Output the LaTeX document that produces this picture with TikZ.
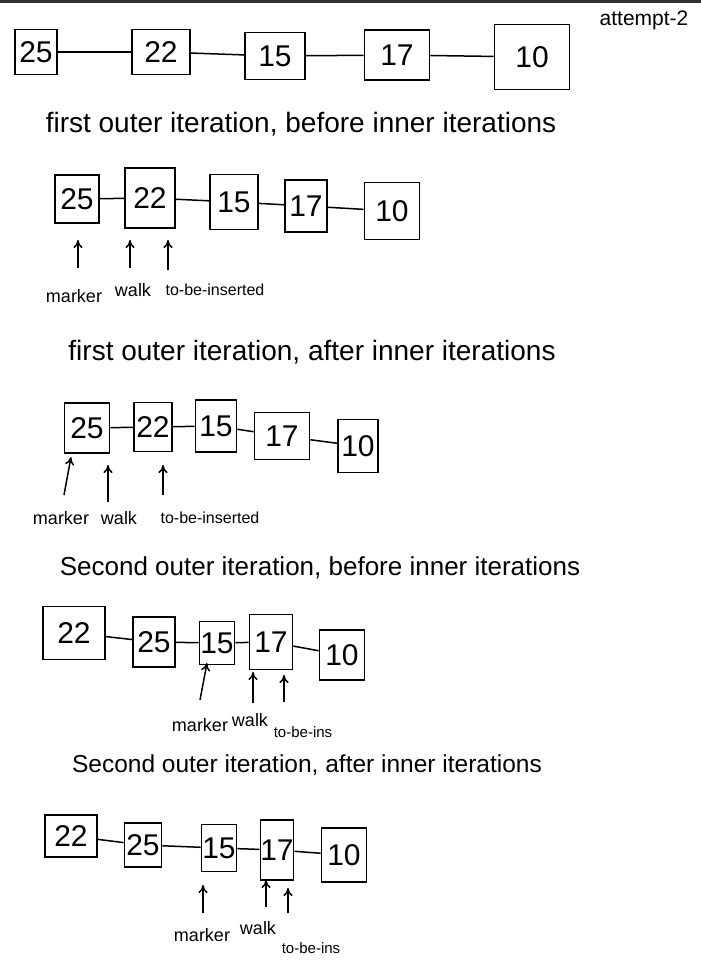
\documentclass[tikz,border=0pt]{standalone}
\usepackage{fontspec}
\setmainfont{Liberation Sans}
\usetikzlibrary{arrows.meta}
\begin{document}
\begin{tikzpicture}
[x=1pt,y=-1pt,
  nodedecorate/.style={shape=rectangle,draw,line width=1.6pt,inner sep=0pt,
    font=\fontsize{30}{32}\selectfont},%
  arrowdecorate/.style={-{To[length=8pt,width=9pt]},line width=1.5pt},%
  linedecorate/.style={-,line width=1.5pt},%
  labeldecorate/.style={font=\fontsize{18}{20}\selectfont},%
  captiondecorate/.style={font=\fontsize{#1}{30}\selectfont}]
\useasboundingbox (0,0) rectangle (701,970);
\fill[white] (0,0) rectangle (701,970);
\fill[black!80] (0,0) rectangle (701,3);
%% lists, one row a..e per state
\foreach \nodename/\x/\y/\w/\h/\val in {
  a1/36/52/42/45/25, a2/161/52/58/45/22, a3/275/56/60/47/15, a4/397/55/65/50/17, a5/532/57/75/65/10,
  b1/77/199/44/48/25, b2/150/198/50/60/22, b3/234/202/48/55/15, b4/306/206/42/52/17, b5/392/211/55/57/10,
  c1/87/428/45/50/25, c2/153/427/38/49/22, c3/216/426/41/52/15, c4/282/436/55/47/17, c5/358/446/40/53/10,
  d1/74/633/62/53/22, d2/154/642/42/50/25, d3/217/643/35/43/15, d4/271/642/43/55/17, d5/342/655/45/50/10,
  e1/71/836/52/42/22, e2/143/845/37/44/25, e3/219/848/35/47/15, e4/277/850/31/60/17, e5/344/855/45/54/10} {
  \node (\nodename) at (\x,\y) [nodedecorate,minimum width=\w pt,minimum height=\h pt] {\val};
}
%% links
\foreach \r in {a,b,c,d,e}
  \foreach \i/\j in {1/2,2/3,3/4,4/5}
    \draw[linedecorate] (\r\i) -- (\r\j);
%% captions
\node (title) at (644,20) [font=\fontsize{21}{24}\selectfont] {attempt-2};
\node (cap1) at (301,124) [captiondecorate=28] {first outer iteration, before inner iterations};
\node (cap2) at (312,352) [captiondecorate=28] {first outer iteration, after inner iterations};
\node (cap3) at (320,568) [captiondecorate=26] {Second outer iteration, before inner iterations};
\node (cap4) at (307,765) [captiondecorate=24.5] {Second outer iteration, after inner iterations};
%% pointers
\foreach \pname/\xa/\ya/\xb/\yb/\lx/\ly/\fs/\txt in {
  bm/78/268/78/240/74/296/18/marker, bw/130/268/130/240/133/290/18/walk, bt/168/270/168/240/215/290/16/to-be-inserted,
  cm/64/495/71/457/61/518/18/marker, cw/108/502/108/465/119/518/18/walk, ct/163/495/163/465/210/518/16/to-be-inserted,
  dm/200/700/207/663/200/725/18/marker, dw/253/703/253/672/250/720/18/walk, dt/284/702/284/675/303/732/15/to-be-ins,
  em/203/913/203/885/202/935/18/marker, ew/266/907/266/880/258/928/18/walk, et/288/913/288/888/311/948/15/to-be-ins} {
  \coordinate (\pname s) at (\xa,\ya);
  \coordinate (\pname e) at (\xb,\yb);
  \node (\pname l) at (\lx,\ly) [font=\fontsize{\fs}{20}\selectfont] {\txt};
  \draw[arrowdecorate] (\pname s) -- (\pname e);
}
\end{tikzpicture}
\end{document}
